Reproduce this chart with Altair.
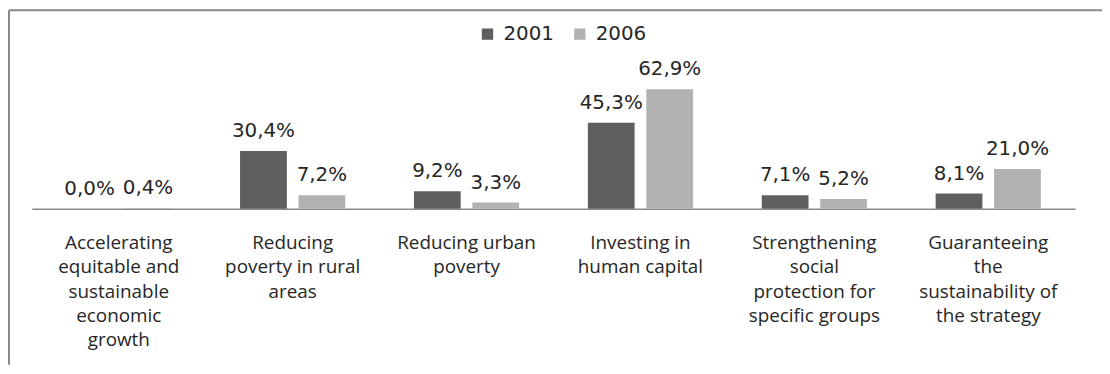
import altair as alt
import pandas as pd

categories = [
    "Accelerating|equitable and|sustainable|economic|growth",
    "Reducing|poverty in rural|areas",
    "Reducing urban|poverty",
    "Investing in|human capital",
    "Strengthening|social|protection for|specific groups",
    "Guaranteeing|the|sustainability of|the strategy",
]
series = ["2001", "2006"]
values_2001 = [0.0, 30.4, 9.2, 45.3, 7.1, 8.1]
values_2006 = [0.4, 7.2, 3.3, 62.9, 5.2, 21.0]
colors = ["#5f5f5f", "#b2b2b2"]

rows = []
for c, a, b in zip(categories, values_2001, values_2006):
    rows.append({"category": c, "year": series[0], "value": a})
    rows.append({"category": c, "year": series[1], "value": b})
df = pd.DataFrame(rows)

W, H = 1051, 134
PAD = {"left": 24, "top": 67, "right": 27, "bottom": 157}

x = alt.X(
    "category:N",
    sort=categories,
    scale=alt.Scale(paddingInner=0.395, paddingOuter=0.1975),
    axis=alt.Axis(
        title=None,
        labelExpr="split(datum.label, '|')",
        labelAngle=0,
        ticks=False,
        domainColor="#8c8c8c",
        domainWidth=1.5,
        labelFont="Open Sans",
        labelFontSize=19,
        labelColor="#262626",
        labelLineHeight=24.5,
        labelPadding=25,
        labelLimit=0,
        labelOverlap=False,
        labelBaseline="top",
        labelAlign="center",
    ),
)
xo = alt.XOffset("year:N", sort=series, scale=alt.Scale(paddingInner=0.2, paddingOuter=0))
y = alt.Y("value:Q", scale=alt.Scale(domain=[0, 70]), axis=None)

base = alt.Chart(df)

bars = base.mark_bar().encode(
    x=x,
    xOffset=xo,
    y=y,
    color=alt.Color(
        "year:N",
        sort=series,
        scale=alt.Scale(domain=series, range=colors),
        legend=alt.Legend(
            title=None,
            orient="none",
            direction="horizontal",
            legendX=449,
            legendY=-52,
            symbolType="square",
            symbolSize=130,
            symbolStrokeWidth=0,
            labelFont="DejaVu Sans",
            labelFontSize=20,
            labelColor="#262626",
            labelOffset=6,
            columnPadding=16,
            padding=0,
        ),
    ),
)

labels = base.transform_calculate(
    label="replace(format(datum.value, '.1f'), '.', ',') + '%'"
).mark_text(
    baseline="alphabetic", dy=-14, font="DejaVu Sans", fontSize=20, color="#262626"
).encode(x=x, xOffset=xo, y=y, text="label:N")

one = alt.Chart(pd.DataFrame({"k": [0]}))
left_border = one.mark_rule(color="#8a8a8a", strokeWidth=2).encode(
    x=alt.value(-23), y=alt.value(-66), y2=alt.value(H + PAD["bottom"])
)
top_border = one.mark_rule(color="#8a8a8a", strokeWidth=2).encode(
    x=alt.value(-23), x2=alt.value(W + PAD["right"]), y=alt.value(-66)
)

chart = (
    alt.layer(bars, labels, left_border, top_border)
    .properties(
        width=W,
        height=H,
        autosize=alt.AutoSizeParams(type="none"),
        padding=PAD,
        background="white",
    )
    .configure_view(stroke=None)
)

chart.save("out.html", embed_options={"renderer": "svg", "actions": False})
